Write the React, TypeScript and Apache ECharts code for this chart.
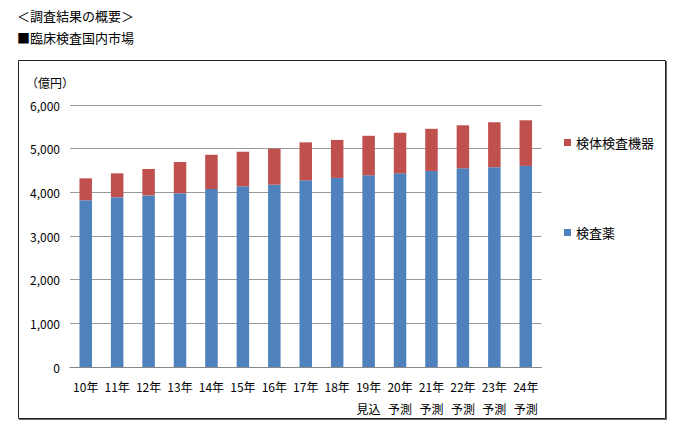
import React, { useEffect, useRef } from "react";
import * as echarts from "echarts";

const categories = ["10年", "11年", "12年", "13年", "14年", "15年", "16年", "17年", "18年", "19年\n見込", "20年\n予測", "21年\n予測", "22年\n予測", "23年\n予測", "24年\n予測"];
const reagents = [3820, 3890, 3930, 3980, 4075, 4140, 4175, 4275, 4330, 4390, 4435, 4490, 4550, 4575, 4605];
const totals = [4320, 4435, 4535, 4695, 4860, 4930, 5000, 5145, 5200, 5295, 5365, 5455, 5535, 5605, 5650];
const instruments = totals.map((t, i) => t - reagents[i]);
const yTicks = [0, 1000, 2000, 3000, 4000, 5000, 6000];

const FONT = "'Noto Sans CJK JP', 'Noto Sans', sans-serif";

export default function App() {
  const ref = useRef<HTMLDivElement>(null);
  useEffect(() => {
    if (!ref.current) return;
    const chart = echarts.init(ref.current, undefined, { renderer: "svg" });
    chart.setOption({
      animation: false,
      backgroundColor: "#ffffff",
      textStyle: { fontFamily: FONT },
      graphic: [
        { type: "text", left: 17, top: 9, style: { text: "＜調査結果の概要＞", fontSize: 13, fontFamily: FONT, fill: "#000" } },
        { type: "text", left: 17, top: 31, style: { text: "■臨床検査国内市場", fontSize: 13, fontFamily: FONT, fill: "#000" } },
        { type: "rect", shape: { x: 18.5, y: 60.5, width: 647, height: 358 }, style: { fill: "none", stroke: "#222", lineWidth: 1 }, z: -1 },
        { type: "line", shape: { x1: 666.5, y1: 61, x2: 666.5, y2: 420 }, style: { stroke: "#666", lineWidth: 1 } },
        { type: "line", shape: { x1: 19, y1: 419.5, x2: 667, y2: 419.5 }, style: { stroke: "#666", lineWidth: 1 } },
        { type: "text", left: 26, top: 76, style: { text: "（億円）", fontSize: 12, fontFamily: FONT, fill: "#000" } },
      ],
      grid: { left: 70, right: 138.5, top: 105, bottom: 61, containLabel: false },
      legend: {
        orient: "vertical",
        left: 559,
        top: 131,
        itemWidth: 7,
        itemHeight: 7,
        itemGap: 77,
        icon: "rect",
        textStyle: { fontSize: 13, color: "#000", fontFamily: FONT },
        data: ["検体検査機器", "検査薬"],
      },
      xAxis: {
        type: "category",
        data: categories,
        axisLine: { lineStyle: { color: "#888", width: 1 } },
        axisTick: { show: false },
        axisLabel: { color: "#000", fontSize: 12, lineHeight: 22, margin: 8, interval: 0, fontFamily: FONT },
      },
      yAxis: {
        type: "value",
        min: yTicks[0],
        max: yTicks[yTicks.length - 1],
        interval: 1000,
        axisLine: { show: false },
        axisTick: { show: false },
        splitLine: { lineStyle: { color: "#999", width: 1 } },
        axisLabel: {
          color: "#000",
          fontSize: 12,
          margin: 10,
          fontFamily: FONT,
          formatter: (v: number) => v.toLocaleString("en-US"),
        },
      },
      series: [
        {
          name: "検査薬",
          type: "bar",
          stack: "total",
          data: reagents,
          barWidth: 12.5,
          itemStyle: { color: "#4F81BD" },
        },
        {
          name: "検体検査機器",
          type: "bar",
          stack: "total",
          data: instruments,
          barWidth: 12.5,
          itemStyle: { color: "#C0504D" },
        },
      ],
    });
    return () => chart.dispose();
  }, []);
  return <div ref={ref} style={{ position: "absolute", left: 0, top: 0, width: 680, height: 428 }} />;
}
